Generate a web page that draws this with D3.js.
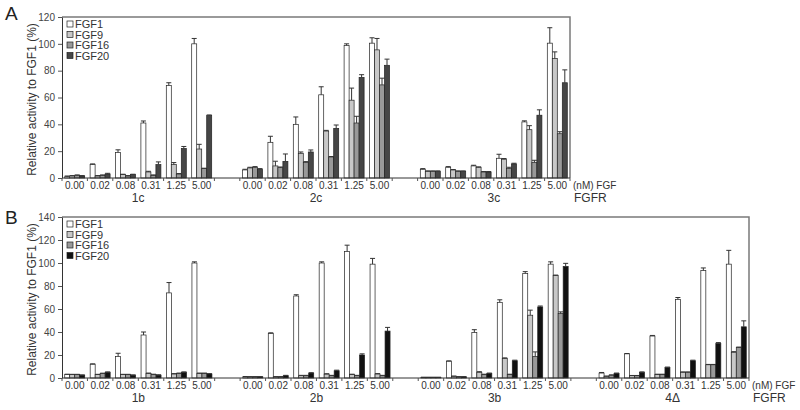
<!DOCTYPE html>
<html><head><meta charset="utf-8">
<script src="https://cdn.jsdelivr.net/npm/d3@7"></script>
<style>body{margin:0;background:#fff}svg{display:block;font-family:"Liberation Sans",Arial,sans-serif}</style>
</head><body><svg id="c" width="800" height="410"></svg>
<script>
const concentrations = ["0.00","0.02","0.08","0.31","1.25","5.00"];
const seriesNames = ["FGF1","FGF9","FGF16","FGF20"];
const groupsA = ["1c","2c","3c"];
const groupsB = ["1b","2b","3b","4Δ"];
const yTicksA = [0,20,40,60,80,100,120];
const yTicksB = [0,20,40,60,80,100,120,140];

// Panel A values (groups 1c, 2c, 3c × 6 concentrations)
const aFGF1  = [1,10,19,41,69,100, 6,26.6,40,62,98.8,100.5, 6.5,8,9,14.7,41.8,100.5];
const aFGF9  = [1.5,1.5,2.5,4.5,10,21.6, 7.5,9,18.4,35,58,95.5, 5,6,8,14,36,89];
const aFGF16 = [2,2,1.5,2,3,7, 8,7.7,11.7,15.7,41,69.4, 5,5,4.5,7,11.7,33];
const aFGF20 = [1.5,3,2.5,10,22,46.5, 6.5,12.4,19.4,37,75,84, 5,5,4.5,10.5,46.8,71];
const aErr1  = [0.5,0.5,2,1.5,2,4, 0.5,4.5,5.5,6,1.2,4, 0.5,0.5,0.5,3,0.8,11.5];
const aErr9  = [0.3,0.3,0.3,0.5,1.5,3.5, 0.5,3.5,1,0.5,9,8.5, 0.3,0.3,0.3,0.5,3,5];
const aErr16 = [0.3,0.3,0.3,0.3,0.3,0.3, 0.5,0.5,0.5,0.3,5,5, 0.3,0.3,0.3,1,1.5,1.5];
const aErr20 = [0.3,0.5,0.3,2,1.5,0.5, 0.5,5.5,1.5,2.5,2,4.6, 0.3,0.3,0.3,0.5,4,9.6];

// Panel B values (groups 1b, 2b, 3b, 4Δ × 6 concentrations)
const bFGF1  = [3,12,18.7,37.4,74,100, 1,38.8,71.3,100,110,99, 0.5,14.6,39.6,65.8,91,99, 4.3,21,36.5,68.4,93.4,99];
const bFGF9  = [3,3,3,4,3.5,4, 1,1,2,3.4,3,3.5, 0.5,1.5,5,17,54.6,89, 1.5,2,3,5,11.5,22.4];
const bFGF16 = [3,4,3,3,4,4, 1,1,2,2,2,2, 0.5,1,3,3,18.7,56, 2.5,2,3,5,11.5,26.4];
const bFGF20 = [2.5,5,2.5,2.5,5,3.5, 1,2,4.3,6.3,20,40.8, 0.5,1,4,15,61.8,97, 4,5,9,15,30,44.5];
const bErr1  = [0.3,0.3,2.8,2.6,9,1, 0.3,0.5,1.1,1,5.5,5, 0.2,0.3,2.4,2.2,1.5,2, 0.5,0.3,0.5,1.6,2.3,12];
const bErr9  = [0.2,0.2,0.2,0.3,0.3,0.3, 0.2,0.2,0.3,0.3,0.3,0.3, 0.2,0.2,0.5,0.5,4.4,0.5, 0.2,0.2,0.3,0.3,0.3,0.5];
const bErr16 = [0.2,0.2,0.2,0.3,0.3,0.3, 0.2,0.2,0.3,0.3,0.3,0.3, 0.2,0.2,0.3,0.3,4,1.5, 0.2,0.2,0.3,0.3,0.3,0.5];
const bErr20 = [0.2,0.3,0.2,0.3,0.3,0.3, 0.2,0.3,0.3,0.5,1,3.2, 0.2,0.2,0.3,0.5,0.8,2.7, 0.3,0.3,0.5,0.5,0.8,5.2];

const svg = d3.select("#c");

function panel(cfg){
  const {letter, letterY, groups, vals, errs, colors, yMax, yTicks, top, bottom, left, right} = cfg;
  const g = svg.append("g");
  const nSlots = groups.length*6 + (groups.length-1);
  const x = d3.scaleBand().domain(d3.range(nSlots)).range([left,right]).paddingInner(0);
  const y = d3.scaleLinear().domain([0,yMax]).range([bottom,top]);
  const inner = d3.scaleBand().domain(seriesNames).range([-10,10]);
  const slotOf = i => Math.floor(i/6)*7 + (i%6);

  // frame (top/right grey)
  g.append("path").attr("d",`M${left},${top}H${right}V${bottom}`).attr("fill","none").attr("stroke","#7a7a7a").attr("stroke-width",1.5);

  // bars
  seriesNames.forEach((s,si)=>{
    const v = vals[si], e = errs[si];
    v.forEach((val,i)=>{
      const cx = x(slotOf(i)) + x.bandwidth()/2;
      const bx = cx + inner(s);
      const bw = inner.bandwidth();
      g.append("rect").attr("x",bx).attr("y",y(val)).attr("width",bw).attr("height",y(0)-y(val))
        .attr("fill",colors[si]).attr("stroke","#222").attr("stroke-width",0.7);
      const mx = bx + bw/2;
      g.append("line").attr("x1",mx).attr("x2",mx).attr("y1",y(val)).attr("y2",y(val+e[i])).attr("stroke","#333").attr("stroke-width",1);
      g.append("line").attr("x1",bx).attr("x2",bx+bw).attr("y1",y(val+e[i])).attr("y2",y(val+e[i])).attr("stroke","#333").attr("stroke-width",1);
    });
  });

  // y axis
  const yAxis = d3.axisLeft(y).tickValues(yTicks).tickSize(4).tickSizeOuter(0);
  const ya = g.append("g").attr("transform",`translate(${left},0)`).call(yAxis);
  ya.select(".domain").attr("stroke","#333");
  ya.selectAll(".tick line").attr("stroke","#555");
  ya.selectAll("text").attr("font-size",10).attr("fill","#444").attr("font-family","Liberation Sans, Arial, sans-serif");

  // bottom axis
  g.append("line").attr("x1",left).attr("x2",right).attr("y1",bottom).attr("y2",bottom).attr("stroke","#333").attr("stroke-width",1);
  d3.range(nSlots+1).forEach(k=>{
    const tx = left + k*x.step();
    g.append("line").attr("x1",tx).attr("x2",tx).attr("y1",bottom).attr("y2",bottom+3).attr("stroke","#555");
  });
  groups.forEach((gr,gi)=>{
    concentrations.forEach((c,ci)=>{
      const cx = x(gi*7+ci) + x.bandwidth()/2;
      g.append("text").attr("x",cx).attr("y",bottom+11).attr("text-anchor","middle").attr("font-size",10).attr("fill","#333").text(c);
    });
    const gx = x(gi*7+2) + x.bandwidth();
    g.append("text").attr("x",gx).attr("y",bottom+24).attr("text-anchor","middle").attr("font-size",12).attr("fill","#333").text(gr);
  });
  g.append("text").attr("x",right+3).attr("y",bottom+11).attr("font-size",10).attr("fill","#333").text("(nM) FGF");
  g.append("text").attr("x",right+4).attr("y",bottom+24).attr("font-size",12).attr("fill","#333").text("FGFR");

  // y label
  g.append("text").attr("transform",`translate(${left-26},${(top+bottom)/2+2}) rotate(-90)`).attr("text-anchor","middle")
    .attr("font-size",12).attr("fill","#333").text("Relative activity to FGF1 (%)");
  // panel letter
  g.append("text").attr("x",5).attr("y",letterY).attr("font-size",19).attr("fill","#222").text(letter);

  // legend
  seriesNames.forEach((s,si)=>{
    const ly = top + 7 + si*10.5;
    g.append("rect").attr("x",left+5).attr("y",ly-3).attr("width",6).attr("height",6).attr("fill",colors[si]).attr("stroke","#222").attr("stroke-width",0.7);
    g.append("text").attr("x",left+13).attr("y",ly+4).attr("font-size",11).attr("fill","#333").text(s);
  });
}

panel({letter:"A", letterY:20, groups:groupsA, vals:[aFGF1,aFGF9,aFGF16,aFGF20], errs:[aErr1,aErr9,aErr16,aErr20],
  colors:["#ffffff","#c8c8c8","#999999","#464646"], yMax:120, yTicks:yTicksA, top:17, bottom:178, left:62, right:570});
panel({letter:"B", letterY:224, groups:groupsB, vals:[bFGF1,bFGF9,bFGF16,bFGF20], errs:[bErr1,bErr9,bErr16,bErr20],
  colors:["#ffffff","#c8c8c8","#999999","#111111"], yMax:140, yTicks:yTicksB, top:217, bottom:378, left:62, right:749});
</script></body></html>
